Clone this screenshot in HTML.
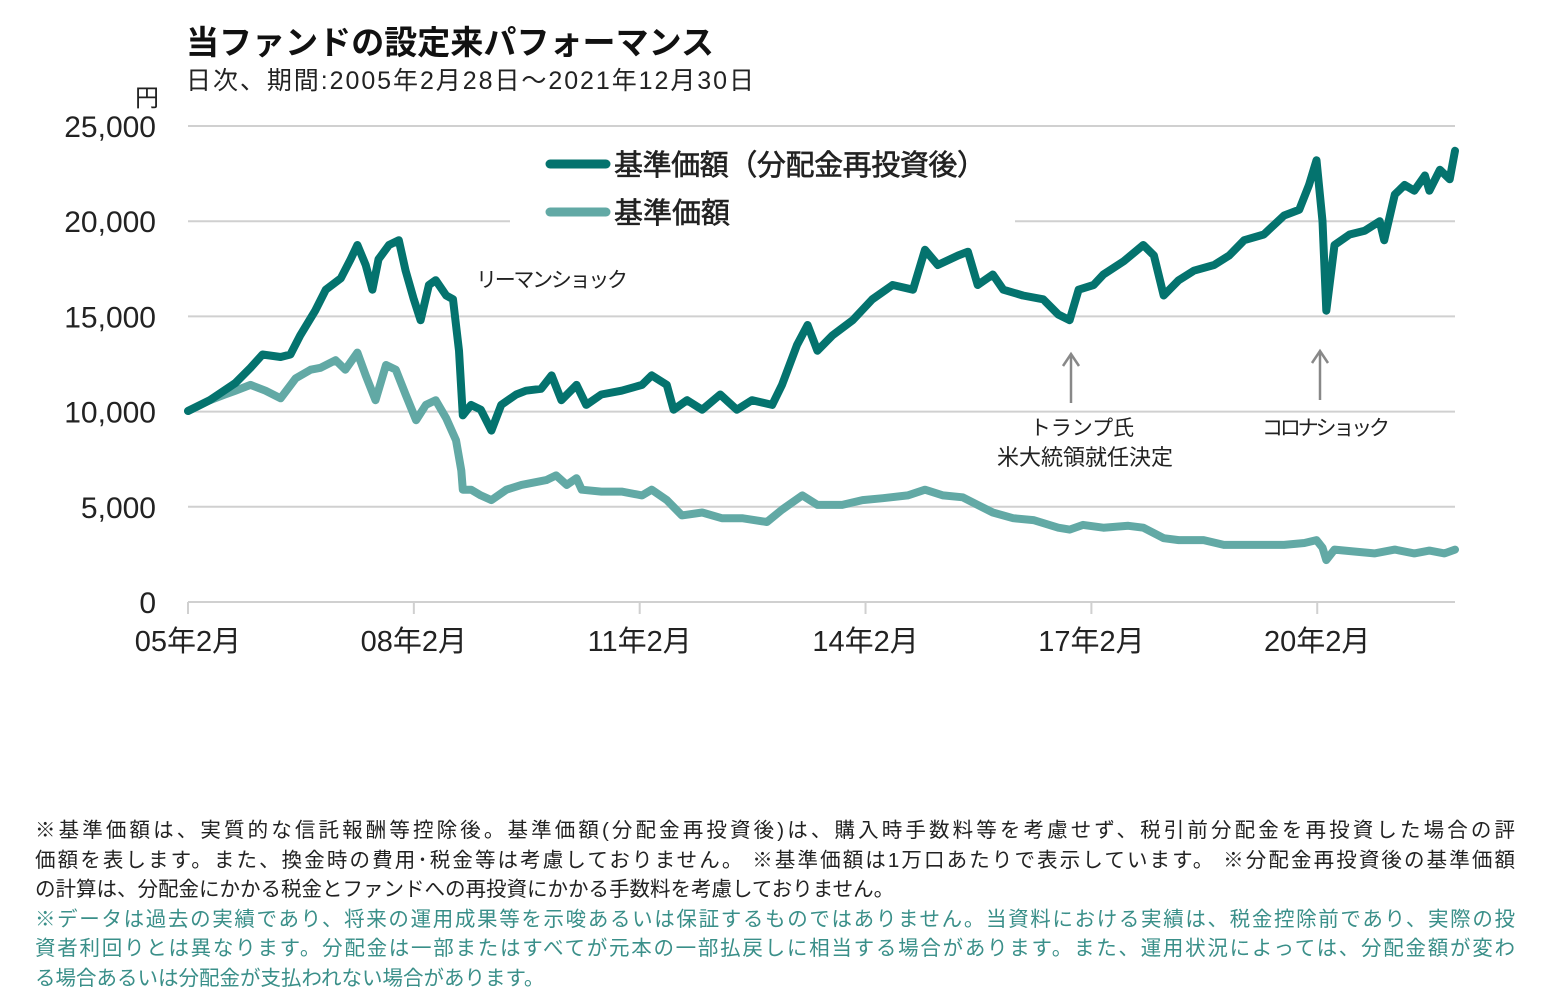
<!DOCTYPE html>
<html><head><meta charset="utf-8">
<style>
body{margin:0;background:#fff;width:1541px;height:997px;overflow:hidden;font-family:"Liberation Sans","Noto Sans CJK JP",sans-serif;}
svg text{font-family:"Liberation Sans","Noto Sans CJK JP",sans-serif;}
#notes{position:absolute;left:35px;top:816px;width:1480px;font-size:20.5px;line-height:29.5px;color:#222;}
#notes div{text-align:justify;text-align-last:justify;white-space:nowrap;}
#notes div.last{text-align-last:left;}
#notes .g{color:#3a8f89;}
</style></head><body>
<svg id="chart" width="1541" height="810" style="position:absolute;left:0;top:0">
<text x="186" y="54" font-size="33" font-weight="bold" fill="#111" textLength="528">当ファンドの設定来パフォーマンス</text>
<text x="186" y="89" font-size="25" fill="#222" textLength="568">日次、期間:2005年2月28日～2021年12月30日</text>
<text x="147" y="106" font-size="24" text-anchor="middle" fill="#222">円</text>
<g id="grid"></g>
<g id="yt"></g>
<g id="xt"></g>
<g id="series"></g>
<rect x="510" y="140" width="505" height="95" fill="#fff"/>
<g>
<line x1="550" y1="164" x2="606" y2="164" stroke="#04736e" stroke-width="9" stroke-linecap="round"/>
<text x="614" y="175" font-size="29" fill="#222" stroke="#222" stroke-width="0.6" textLength="372">基準価額（分配金再投資後）</text>
<line x1="550" y1="212" x2="606" y2="212" stroke="#62a9a5" stroke-width="9" stroke-linecap="round"/>
<text x="614" y="223" font-size="29" fill="#222" stroke="#222" stroke-width="0.6">基準価額</text>
</g>
<text x="476" y="287" font-size="21" fill="#222" textLength="152">リーマンショック</text>
<g stroke="#888" stroke-width="2.5" fill="none"><line x1="1071" y1="354" x2="1071" y2="403"/><polyline points="1063,366 1071,354 1079,366"/></g>
<g stroke="#888" stroke-width="2.5" fill="none"><line x1="1320" y1="351" x2="1320" y2="400"/><polyline points="1312,363 1320,351 1328,363"/></g>
<text x="1082" y="435" font-size="21" text-anchor="middle" fill="#222">トランプ氏</text>
<text x="1085" y="465" font-size="22" text-anchor="middle" fill="#222">米大統領就任決定</text>
<text x="1326" y="435" font-size="21" text-anchor="middle" fill="#222" textLength="128">コロナショック</text>
</svg>
<div id="notes">
<div>※基準価額は、実質的な信託報酬等控除後。基準価額(分配金再投資後)は、購入時手数料等を考慮せず、税引前分配金を再投資した場合の評</div>
<div>価額を表します。また、換金時の費用･税金等は考慮しておりません。 ※基準価額は1万口あたりで表示しています。 ※分配金再投資後の基準価額</div>
<div class="last">の計算は、分配金にかかる税金とファンドへの再投資にかかる手数料を考慮しておりません。</div>
<div class="g">※データは過去の実績であり、将来の運用成果等を示唆あるいは保証するものではありません。当資料における実績は、税金控除前であり、実際の投</div>
<div class="g">資者利回りとは異なります。分配金は一部またはすべてが元本の一部払戻しに相当する場合があります。また、運用状況によっては、分配金額が変わ</div>
<div class="g last">る場合あるいは分配金が支払われない場合があります。</div>
</div>
<script>
const yTicks=[0,5000,10000,15000,20000,25000];
const yTickLabels=["0","5,000","10,000","15,000","20,000","25,000"];
const xTicks=[2005.16,2008.16,2011.16,2014.16,2017.16,2020.16];
const xTickLabels=["05年2月","08年2月","11年2月","14年2月","17年2月","20年2月"];
const reinvDates=[2005.16,2005.45,2005.79,2005.99,2006.15,2006.39,2006.52,2006.65,2006.85,2006.99,2007.19,2007.32,2007.41,2007.52,2007.61,2007.69,2007.83,2007.96,2008.05,2008.16,2008.25,2008.36,2008.45,2008.59,2008.68,2008.76,2008.81,2008.92,2009.05,2009.19,2009.32,2009.52,2009.65,2009.85,2009.99,2010.12,2010.32,2010.45,2010.65,2010.92,2011.19,2011.32,2011.52,2011.61,2011.79,2011.99,2012.23,2012.45,2012.65,2012.92,2013.05,2013.25,2013.39,2013.52,2013.72,2013.99,2014.25,2014.52,2014.79,2014.95,2015.12,2015.39,2015.52,2015.65,2015.85,2015.99,2016.25,2016.52,2016.72,2016.87,2016.99,2017.19,2017.32,2017.59,2017.85,2017.99,2018.12,2018.32,2018.52,2018.79,2018.99,2019.19,2019.45,2019.72,2019.92,2020.05,2020.15,2020.23,2020.28,2020.39,2020.59,2020.79,2020.99,2021.05,2021.19,2021.32,2021.45,2021.59,2021.65,2021.79,2021.92,2021.99];
const reinvValues=[10030,10600,11500,12300,13000,12870,13000,14000,15300,16400,17000,18000,18750,17700,16400,18000,18750,19000,17400,15900,14800,16650,16900,16100,15900,13200,9800,10350,10100,9000,10350,10900,11100,11200,11900,10600,11400,10350,10900,11100,11400,11900,11400,10100,10600,10100,10900,10100,10600,10350,11400,13500,14550,13200,14000,14800,15900,16650,16400,18500,17700,18200,18400,16650,17200,16400,16100,15900,15100,14800,16400,16650,17200,17900,18750,18200,16100,16900,17400,17700,18200,19000,19300,20300,20600,21900,23200,20000,15300,18750,19300,19500,20000,19000,21400,21900,21600,22400,21600,22700,22200,23700];
const navDates=[2005.16,2005.45,2005.65,2005.79,2005.99,2006.19,2006.39,2006.59,2006.79,2006.92,2007.12,2007.25,2007.41,2007.52,2007.65,2007.79,2007.92,2008.05,2008.19,2008.32,2008.45,2008.59,2008.72,2008.79,2008.81,2008.92,2009.05,2009.19,2009.39,2009.59,2009.92,2010.05,2010.19,2010.32,2010.39,2010.65,2010.92,2011.19,2011.32,2011.52,2011.72,2011.99,2012.25,2012.52,2012.85,2013.05,2013.32,2013.52,2013.85,2014.12,2014.39,2014.72,2014.95,2015.19,2015.45,2015.65,2015.85,2016.12,2016.39,2016.72,2016.87,2017.05,2017.32,2017.65,2017.85,2018.12,2018.32,2018.65,2018.92,2019.19,2019.45,2019.72,2019.99,2020.15,2020.23,2020.28,2020.39,2020.65,2020.92,2021.19,2021.45,2021.65,2021.85,2021.99];
const navValues=[10030,10600,10900,11100,11400,11100,10700,11750,12200,12300,12700,12200,13100,11900,10600,12450,12200,10900,9550,10350,10600,9650,8500,6900,5900,5900,5600,5350,5900,6150,6400,6650,6150,6500,5900,5800,5800,5600,5900,5350,4550,4700,4400,4400,4200,4850,5600,5100,5100,5350,5450,5600,5900,5600,5500,5100,4700,4400,4300,3900,3800,4050,3900,4000,3900,3350,3250,3250,3000,3000,3000,3000,3100,3250,2850,2200,2750,2650,2550,2750,2550,2700,2550,2750];

const NS='http://www.w3.org/2000/svg';
const X0=188,X1=1455,T0=2005.16,T1=2021.99,Y0=602,Y1=126,V1=25000;
const xs=t=>X0+(t-T0)/(T1-T0)*(X1-X0);
const ys=v=>Y0-v/V1*(Y0-Y1);
function mk(tag,attrs,parent){const e=document.createElementNS(NS,tag);for(const k in attrs)e.setAttribute(k,attrs[k]);parent.appendChild(e);return e;}
const grid=document.getElementById('grid'),yt=document.getElementById('yt'),xt=document.getElementById('xt'),ser=document.getElementById('series');
yTicks.forEach((v,i)=>{
  const l=mk('line',{x1:X0,x2:X1,y1:ys(v),y2:ys(v),stroke:'#d0d0d0','stroke-width':2},grid);
  
  
  const t=mk('text',{x:156,y:ys(v)+11,'font-size':30,'text-anchor':'end',fill:'#222'},yt);
  
  
  t.textContent=yTickLabels[i];
});
xTicks.forEach((d,i)=>{
  const l=mk('line',{x1:xs(d),x2:xs(d),y1:Y0,y2:Y0+12,stroke:'#d0d0d0','stroke-width':2},xt);
  
  
  const t=mk('text',{x:xs(d),y:651,'font-size':29,'text-anchor':'middle',fill:'#222'},xt);
  
  
  t.textContent=xTickLabels[i];
});
function line(dates,vals,color,name){
  const p=mk('path',{d:dates.map((d,i)=>(i?'L':'M')+xs(d).toFixed(1)+','+ys(vals[i]).toFixed(1)).join(''),fill:'none',stroke:color,'stroke-width':8,'stroke-linejoin':'round','stroke-linecap':'round'},ser);
  
  
}
line(navDates,navValues,'#62a9a5','nav-line');
line(reinvDates,reinvValues,'#04736e','reinvested-nav-line');
</script>
</body></html>
